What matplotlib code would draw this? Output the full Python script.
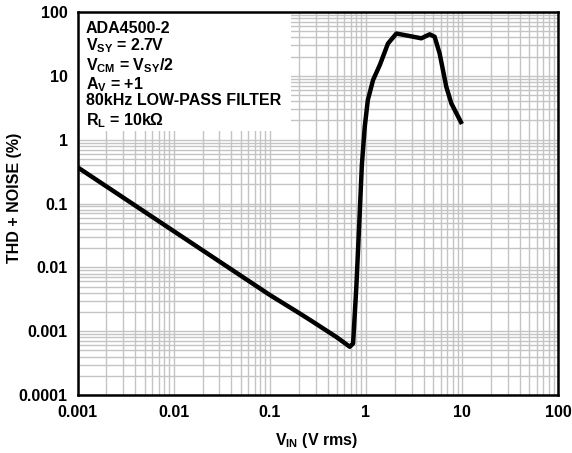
import matplotlib
matplotlib.use("Agg")
import matplotlib.pyplot as plt
from matplotlib.patches import Rectangle

plt.rcParams['font.family'] = ['Liberation Sans', 'DejaVu Sans']
plt.rcParams['font.weight'] = 'bold'
plt.rcParams['mathtext.fontset'] = 'custom'
plt.rcParams['mathtext.rm'] = 'Liberation Sans:bold'
plt.rcParams['mathtext.it'] = 'Liberation Sans:bold'
plt.rcParams['mathtext.bf'] = 'Liberation Sans:bold'

# Data (V rms vs THD+N %)
vin = [0.001, 0.01, 0.1, 0.206, 0.282, 0.494, 0.58, 0.68, 0.737, 0.797, 0.85,
       0.91, 0.975, 1.05, 1.19, 1.40, 1.70, 2.08, 2.86, 3.78, 4.62, 5.20,
       5.86, 6.88, 7.76, 10.0]
thdn = [0.37, 0.037, 0.0037, 0.00189, 0.0014, 0.00081, 0.00068, 0.00057,
        0.00064, 0.0049, 0.04, 0.4, 1.59, 4.18, 8.6, 14.8, 32, 46, 42, 38.7,
        44.7, 41, 22.5, 6.75, 3.71, 1.76]

xticks = [0.001, 0.01, 0.1, 1, 10, 100]
xtick_labels = ['0.001', '0.01', '0.1', '1', '10', '100']
yticks = [0.0001, 0.001, 0.01, 0.1, 1, 10, 100]
ytick_labels = ['0.0001', '0.001', '0.01', '0.1', '1', '10', '100']

annot = ['ADA4500-2',
         r'V$_{\mathrm{SY}}$ = 2.7V',
         r'V$_{\mathrm{CM}}$ = V$_{\mathrm{SY}}$/2',
         r'A$_{\mathrm{V}}$ = +1',
         '80kHz LOW-PASS FILTER',
         r'R$_{\mathrm{L}}$ = 10kΩ']

W, H = 572, 453
L, R, T, B = 77.5, 558, 12, 395
fig = plt.figure(figsize=(W/100, H/100), dpi=100)
ax = fig.add_axes([L/W, 1-B/H, (R-L)/W, (B-T)/H])
ax.set_xscale('log')
ax.set_yscale('log')
ax.set_xlim(0.001, 100)
ax.set_ylim(0.0001, 100)
ax.set_axisbelow(True)
ax.grid(True, which='both', color='#c4c4c4', linewidth=1.0)
ax.tick_params(which='both', length=0, labelsize=11.5)
ax.tick_params(axis='x', pad=7)
ax.tick_params(axis='y', pad=7)
ax.set_xticks(xticks)
ax.set_xticklabels(xtick_labels, fontweight='bold')
ax.set_yticks(yticks)
ax.set_yticklabels(ytick_labels, fontweight='bold')
for s in ax.spines.values():
    s.set_linewidth(1.8)
    s.set_color('black')

ax.add_patch(Rectangle((0, (B-131)/(B-T)), (291-L)/(R-L), 1-(B-131)/(B-T),
                       transform=ax.transAxes,
                       facecolor='white', edgecolor='none', zorder=1))

ax.plot(vin, thdn, color='black', linewidth=3.2, solid_joinstyle='round',
        solid_capstyle='butt', zorder=3)

baselines = [33, 50, 70, 89, 105, 125]
for t, yp in zip(annot, baselines):
    fig.text(86/W, 1-yp/H, t, fontsize=11.5, fontweight='bold',
             va='baseline', ha='left')

fig.text(316.5/W, 1-445/H, r'V$_{\mathrm{IN}}$ (V rms)', fontsize=11.5,
         fontweight='bold', ha='center', va='baseline')
fig.text(15/W, 1-198/H, 'THD + NOISE (%)', fontsize=11.5, fontweight='bold',
         ha='center', va='center', rotation=90)

fig.savefig('out.png', dpi=100)
